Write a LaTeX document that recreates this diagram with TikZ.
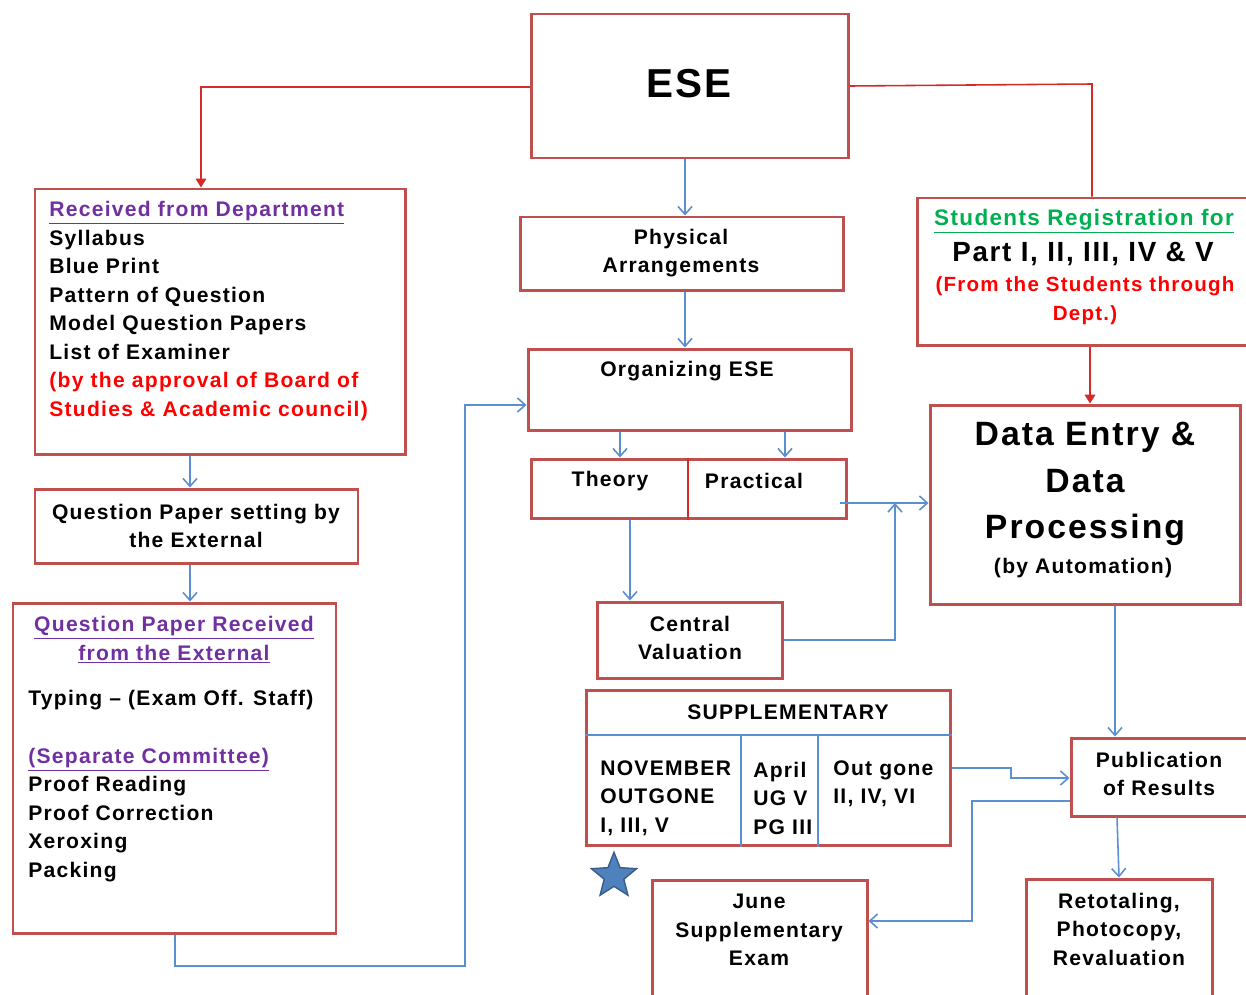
\documentclass[tikz,border=0pt]{standalone}
\usepackage{fontspec}
\setmainfont{Liberation Sans}[LetterSpace=6]
\usetikzlibrary{arrows.meta,fit,shapes.geometric}
\definecolor{boxred}{HTML}{C0504D}
\definecolor{linblue}{HTML}{5B8FD0}
\definecolor{linred}{HTML}{D42A2A}
\definecolor{txtpurple}{HTML}{7030A0}
\definecolor{txtgreen}{HTML}{00B050}
\definecolor{txtred}{HTML}{FF0000}
\definecolor{starfill}{HTML}{4F81BD}
\definecolor{starline}{HTML}{385D8A}
\begin{document}
\begin{tikzpicture}[x=0.02cm,y=-0.02cm,
  box/.style={draw=boxred,line width=1.7pt,inner sep=0pt},
  txt/.style={inner sep=0pt,font=\fontsize{12}{16.2}\selectfont\bfseries,align=center},
  ltxt/.style={txt,align=left,anchor=west},
  bl/.style={draw=linblue,line width=0.9pt,-{Straight Barb[length=4.5pt,width=8pt]}},
  bline/.style={draw=linblue,line width=0.9pt},
  rl/.style={draw=linred,line width=0.9pt,-{Triangle[length=5pt,width=6pt]}},
  rline/.style={draw=linred,line width=0.9pt}
]
\useasboundingbox (0,0) rectangle (1246,994);
% ---------------- boxes ----------------
\node[box,fit={(531,14)(848,158)}] (ese) {};
\node[box,fit={(35,189)(405,454)}] (recv) {};
\node[box,fit={(35,489)(358,563)}] (qps) {};
\node[box,fit={(13,603)(336,933)}] (qpr) {};
\node[box,fit={(520,217)(843,290)}] (phys) {};
\node[box,fit={(528,349)(851,430)}] (org) {};
\node[box,fit={(531,459)(846,518)}] (tp) {};
\node[box,fit={(597,602)(782,678)}] (cv) {};
\node[box,fit={(586,690)(950,845)}] (supp) {};
\node[box,fit={(652,880)(867,1012)}] (june) {};
\node[box,fit={(917,198)(1262,345)}] (stu) {};
\node[box,fit={(930,405)(1240,604)}] (de) {};
\node[box,fit={(1071,738)(1262,816)}] (pub) {};
\node[box,fit={(1026,879)(1212,1012)}] (ret) {};
% inner lines
\draw[draw=linred,line width=0.8pt] (688,0 |- tp.north) -- (688,0 |- tp.south);
\draw[bline,line width=0.8pt] (supp.west |- 0,735) -- (supp.east |- 0,735);
\draw[bline,line width=0.8pt] (741,735) -- (741,0 |- supp.south);
\draw[bline,line width=0.8pt] (818,735) -- (818,0 |- supp.south);
% star
\node[star,star points=5,star point ratio=2.3,fill=starfill,draw=starline,line width=0.8pt,minimum size=27pt,inner sep=0pt] (star) at (614,876) {};
% ---------------- texts ----------------
\node[txt,font=\fontsize{23}{26}\selectfont\bfseries] (tese) at (689,84) {ESE};
\node[ltxt] (trecv) at (49,311) {\textcolor{txtpurple}{\underline{Received from Department}}\\
  Syllabus\\ Blue Print\\ Pattern of Question\\ Model Question Papers\\ List of Examiner\\
  \textcolor{txtred}{(by the approval of Board of}\\ \textcolor{txtred}{Studies \& Academic council)}};
\node[txt] (tqps) at (196,526) {Question Paper setting by\\the External};
\node[txt,text=txtpurple] (tqpr) at (174,640) {\underline{Question Paper Received}\\\underline{from the External}};
\node[ltxt] (ttyp) at (28,700) {Typing -- (Exam Off. Staff)};
\node[ltxt] (tcom) at (28,815) {\textcolor{txtpurple}{\underline{(Separate Committee)}}\\
  Proof Reading\\ Proof Correction\\ Xeroxing\\ Packing};
\node[txt] (tphys) at (681,253) {Physical\\Arrangements};
\node[txt] (torg) at (687,371) {Organizing ESE};
\node[txt] (tth) at (610,481) {Theory};
\node[txt] (tpr) at (754,481) {Practical};
\node[txt] (tcv) at (690,638) {Central\\Valuation};
\node[txt] (tsupp) at (788,712) {SUPPLEMENTARY};
\node[ltxt] (tnov) at (600,798) {NOVEMBER\\OUTGONE\\I, III, V};
\node[ltxt] (tapr) at (753,798) {April\\UG V\\PG III};
\node[ltxt] (tout) at (833,784) {Out gone\\II, IV, VI};
\node[txt] (tjune) at (759,930) {June\\Supplementary\\Exam};
\node[txt,font=\fontsize{12.8}{16.4}\selectfont\bfseries,text=txtgreen] (tstu) at (1084,221) {\underline{Students Registration for}};
\node[txt,font=\fontsize{15.8}{18}\selectfont\bfseries] (tpart) at (1083,254) {Part I, II, III, IV \& V};
\node[txt,font=\fontsize{11.7}{16.4}\selectfont\bfseries,text=txtred] (tfrom) at (1085,301) {(From the Students through\\Dept.)};
\node[txt,font=\fontsize{19.2}{26.6}\selectfont\bfseries] (tde) at (1085,484) {Data Entry \&\\Data\\Processing};
\node[txt] (tauto) at (1083,568) {(by Automation)};
\node[txt] (tpub) at (1159,774) {Publication\\of Results};
\node[txt] (tret) at (1119,929) {Retotaling,\\Photocopy,\\Revaluation};
% ---------------- connectors ----------------
\draw[rl] (ese.west |- 0,87) -| (201,0 |- recv.north);
\draw[rline] (ese.east |- 0,86) -- (1092,84) -- (1092,0 |- stu.north);
\draw[rl] (1090,0 |- stu.south) -- (1090,0 |- de.north);
\draw[bl] (685,0 |- ese.south) -- (685,0 |- phys.north);
\draw[bl] (685,0 |- phys.south) -- (685,0 |- org.north);
\draw[bl] (620,0 |- org.south) -- (620,0 |- tp.north);
\draw[bl] (785,0 |- org.south) -- (785,0 |- tp.north);
\draw[bl] (630,0 |- tp.south) -- (630,0 |- cv.north);
\draw[bl] (840,503) -- (de.west |- 0,503);
\coordinate (j1) at (895,503);
\draw[bl] (cv.east) -| (j1);
\draw[bl] (190,0 |- recv.south) -- (190,0 |- qps.north);
\draw[bl] (190,0 |- qps.south) -- (190,0 |- qpr.north);
\draw[bl] (175,0 |- qpr.south) -- (175,966) -- (465,966) -- (465,405) -- (org.west |- 0,405);
\draw[bl] (1115,0 |- de.south) -- (1115,0 |- pub.north);
\draw[bl] (supp.east |- 0,768) -- (1011,768) -- (1011,778) -- (pub.west |- 0,778);
\draw[bl] (pub.west |- 0,801) -- (972,801) -- (972,921) -- (june.east |- 0,921);
\draw[bl] (1117,0 |- pub.south) -- (1119,0 |- ret.north);
\end{tikzpicture}
\end{document}
